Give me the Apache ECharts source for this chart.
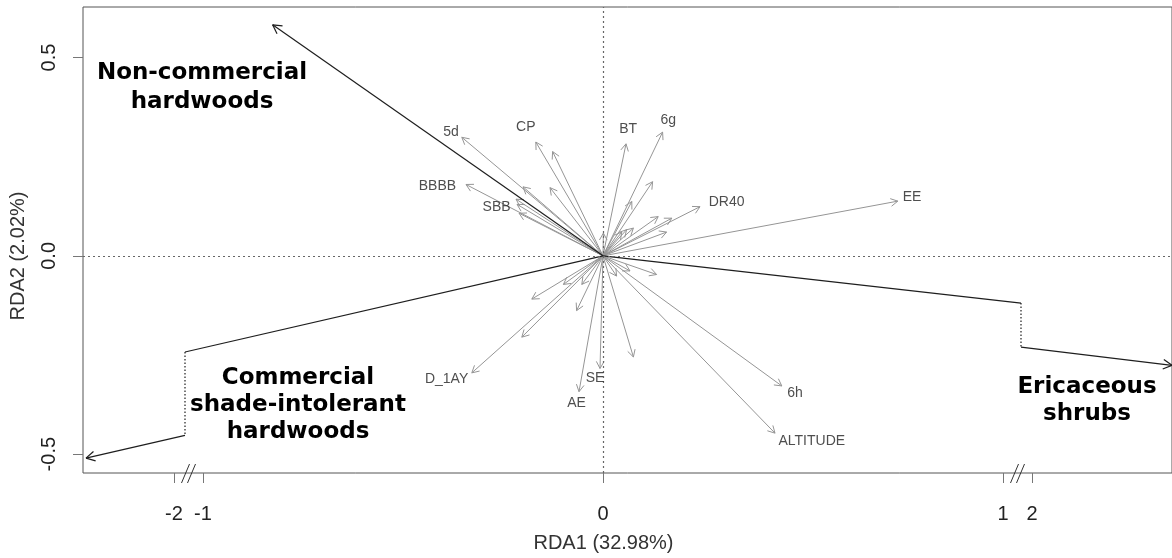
<!DOCTYPE html>
<html>
<head>
<meta charset="utf-8">
<script src="https://cdn.jsdelivr.net/npm/echarts@6.0.0/dist/echarts.min.js"></script>
<style>
html, body { margin: 0; padding: 0; background: #fff; }
#rdaPlot { width: 1172px; height: 558px; }
</style>
</head>
<body>
<div id="rdaPlot"></div>
<script>
// RDA biplot - x axis is broken between -2/-1 and 1/2

// explanatory variable arrows (tips), origin is 0,0
let envX = [-0.353, -0.168, -0.126, -0.3425, -0.2175, -0.215, -0.21, -0.20, -0.1325, 0.001,
            0.0575, 0.149, 0.124, 0.072, 0.138, 0.172, 0.159, 0.059, 0.076, 0.047, 0.2425, 0.737,
            0.134, 0.0675, 0.034, -0.053, -0.099, -0.178, -0.066, -0.203, 0.076,
            -0.328, -0.0075, -0.06, 0.447, 0.43];
let envY = [0.299, 0.287, 0.263, 0.18, 0.143, 0.13, 0.1075, 0.174, 0.172, 0.0575,
            0.2825, 0.312, 0.187, 0.137, 0.099, 0.095, 0.06, 0.066, 0.07, 0.06, 0.124, 0.138,
            -0.047, -0.038, -0.051, -0.072, -0.072, -0.109, -0.138, -0.205, -0.255,
            -0.295, -0.284, -0.3425, -0.328, -0.447];

// names of the labelled arrows and where they sit
let labelNames = ['5d', 'CP', 'BT', '6g', 'BBBB', 'SBB', 'DR40', 'EE', 'D_1AY', 'SE', 'AE', '6h', 'ALTITUDE'];
let labelX = [-0.38, -0.193, 0.063, 0.163, -0.414, -0.266, 0.309, 0.7725, -0.391, -0.02, -0.066, 0.48, 0.522];
let labelY = [0.3125, 0.324, 0.32, 0.341, 0.177, 0.124, 0.135, 0.1475, -0.312, -0.309, -0.372, -0.345, -0.4675];

// species groups (black), paths cross the axis break
let nonComX = [0, -0.826];
let nonComY = [0, 0.5825];
let comShadeX = [0, -1.045, -1.045, -2.22];
let comShadeY = [0, -0.2425, -0.4525, -0.51];
let ericX = [0, 1.045, 1.045, 2.35];
let ericY = [0, -0.119, -0.23, -0.276];

let xTicks = [-2, -1, 0, 1, 2];
let yTicks = [-0.5, 0, 0.5];

let chart = echarts.init(document.getElementById('rdaPlot'));

function arrowRenderer(color, width, headLen) {
    return function (params, api) {
        let a = api.coord([api.value(0), api.value(1)]);
        let b = api.coord([api.value(2), api.value(3)]);
        let children = [{
            type: 'line',
            shape: {x1: a[0], y1: a[1], x2: b[0], y2: b[1]},
            style: {stroke: color, lineWidth: width, lineDash: api.value(5) === 1 ? [1.5, 2] : null}
        }];
        if (api.value(4) === 1) {
            let ang = Math.atan2(b[1] - a[1], b[0] - a[0]);
            [-0.5, 0.5].forEach(function (d) {
                children.push({
                    type: 'line',
                    shape: {x1: b[0], y1: b[1], x2: b[0] - headLen * Math.cos(ang + d), y2: b[1] - headLen * Math.sin(ang + d)},
                    style: {stroke: color, lineWidth: width}
                });
            });
        }
        return {type: 'group', children: children};
    };
}

// path -> segments [x0,y0,x1,y1,head,dotted]; vertical step at the break is dotted
function pathSegments(xs, ys) {
    let segs = [];
    for (let i = 1; i < xs.length; i++) {
        segs.push([xs[i - 1], ys[i - 1], xs[i], ys[i], i === xs.length - 1 ? 1 : 0, xs[i - 1] === xs[i] ? 1 : 0]);
    }
    return segs;
}

let envData = envX.map(function (x, i) { return [0, 0, x, envY[i], 1, 0]; });
let speciesData = pathSegments(nonComX, nonComY)
    .concat(pathSegments(comShadeX, comShadeY))
    .concat(pathSegments(ericX, ericY));
let labelData = labelNames.map(function (n, i) { return {name: n, value: [labelX[i], labelY[i]]}; });

let axisFont = 'Liberation Sans';

let option = {
    animation: false,
    grid: {left: 83, top: 7, right: 0, bottom: 81, show: true, borderColor: '#555', borderWidth: 1},
    xAxis: {
        type: 'value',
        min: -2.2275,
        max: 2.35,
        breaks: [
            {start: -1.98, end: -1.045, gap: 0.0075},
            {start: 1.045, end: 1.98, gap: 0.0075}
        ],
        breakArea: {show: false},
        axisLine: {show: false, onZero: false},
        splitLine: {show: false},
        axisTick: {show: true, length: 10, customValues: xTicks, lineStyle: {color: '#777'}},
        axisLabel: {customValues: xTicks, fontSize: 20, fontFamily: axisFont, color: '#222', margin: 31,
            formatter: function (v) { return String(v); }},
        name: 'RDA1 (32.98%)',
        nameLocation: 'middle',
        nameGap: 60,
        nameTextStyle: {fontSize: 20, fontFamily: axisFont, color: '#333', padding: [0, 48, 0, 0]}
    },
    yAxis: {
        type: 'value',
        min: -0.5475,
        max: 0.6275,
        axisLine: {show: false, onZero: false},
        splitLine: {show: false},
        axisTick: {show: true, length: 10, customValues: yTicks, lineStyle: {color: '#777'}},
        axisLabel: {customValues: yTicks, rotate: 90, fontSize: 20, fontFamily: axisFont, color: '#222', margin: 24,
            formatter: function (v) { return v.toFixed(1); }},
        name: 'RDA2 (2.02%)',
        nameLocation: 'middle',
        nameGap: 55,
        nameTextStyle: {fontSize: 20, fontFamily: axisFont, color: '#333', padding: [0, 32, 0, 0]}
    },
    series: [
        {
            name: 'zero',
            type: 'line',
            data: [],
            markLine: {
                silent: true,
                symbol: 'none',
                label: {show: false},
                lineStyle: {color: '#666', type: [2, 3], width: 1.2},
                data: [{xAxis: 0}, {yAxis: 0}]
            }
        },
        {
            name: 'variables',
            type: 'custom',
            renderItem: arrowRenderer('#959595', 1, 8),
            data: envData,
            z: 3
        },
        {
            name: 'species',
            type: 'custom',
            renderItem: arrowRenderer('#1e1e1e', 1.2, 10),
            data: speciesData,
            clip: false,
            z: 4
        },
        {
            name: 'labels',
            type: 'scatter',
            symbolSize: 1,
            itemStyle: {color: 'rgba(0,0,0,0)'},
            data: labelData,
            label: {show: true, position: 'inside', formatter: '{b}', fontSize: 14, fontFamily: axisFont, color: '#222'},
            z: 5
        }
    ]
};
chart.setOption(option);

// species names + the // marks on the broken axis
let groupFont = 'bold 23px "DejaVu Sans"';
let graphics = [
    {type: 'text', x: 202, y: 88, style: {text: 'Non-commercial\nhardwoods', font: groupFont, fill: '#000', align: 'center', verticalAlign: 'middle', lineHeight: 29}},
    {type: 'text', x: 298, y: 405, style: {text: 'Commercial\nshade-intolerant\nhardwoods', font: groupFont, fill: '#000', align: 'center', verticalAlign: 'middle', lineHeight: 27}},
    {type: 'text', x: 1087, y: 401, style: {text: 'Ericaceous\nshrubs', font: groupFont, fill: '#000', align: 'center', verticalAlign: 'middle', lineHeight: 27}}
];
[[-2, -1], [1, 2]].forEach(function (pair) {
    let p1 = chart.convertToPixel({gridIndex: 0}, [pair[0], -0.5475]);
    let p2 = chart.convertToPixel({gridIndex: 0}, [pair[1], -0.5475]);
    let cx = (p1[0] + p2[0]) / 2, cy = p1[1];
    [-3, 3].forEach(function (o) {
        graphics.push({type: 'line', shape: {x1: cx + o - 4, y1: cy + 10, x2: cx + o + 4, y2: cy - 9},
            style: {stroke: '#333', lineWidth: 1}});
    });
});
chart.setOption({graphic: graphics});

window.addEventListener('resize', function () { chart.resize(); });
</script>
</body>
</html>
